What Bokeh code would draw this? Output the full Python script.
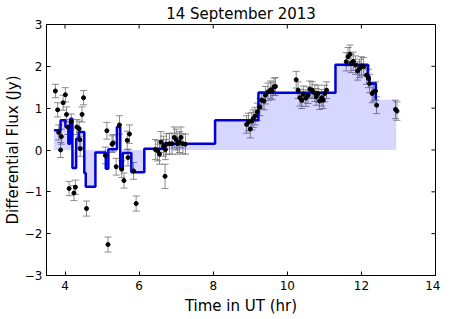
from bokeh.plotting import figure
from bokeh.models import ColumnDataSource, Whisker, TeeHead, FixedTicker, Range1d
from bokeh.embed import file_html
from bokeh.resources import INLINE

# Step model (start times of each level, level values)
step_t = [3.70, 3.88, 4.01, 4.09, 4.14, 4.20, 4.30, 4.37, 4.52, 4.56, 4.82, 5.10, 5.17,
          5.40, 5.49, 5.56, 5.79, 6.14, 6.66, 8.05, 9.22, 11.30, 12.18, 12.22, 12.39]
step_v = [0.47, 0.71, 0.55, 0.15, 0.75, -0.43, 0.27, 0.43, -0.55, -0.88, -0.06, -0.45, 0.02,
          0.55, -0.45, -0.07, -0.53, 0.03, 0.15, 0.71, 1.37, 2.04, 1.76, 1.59, 1.20]
step_end = 12.94

# Measured data points
obs_t = [3.74, 3.80, 3.83, 3.90, 3.88, 3.95, 4.01, 4.04, 4.08, 4.17, 4.32, 4.38, 4.40, 4.41,
         4.46, 4.50, 4.11, 4.28, 4.24, 4.58,
         5.09, 5.13, 5.16, 5.27, 5.30, 5.38, 5.47, 5.53, 5.59, 5.68, 5.70, 5.74, 5.85, 5.92,
         6.44, 6.50, 6.55, 6.59, 6.66, 6.70, 6.71, 6.74, 6.82, 6.89, 6.95, 7.00, 7.04, 7.09,
         7.13, 7.18, 7.25,
         8.90, 8.95, 9.00, 9.04, 9.08, 9.13, 9.19, 9.26, 9.31, 9.37, 9.41, 9.48, 9.55, 9.59,
         9.64, 9.68,
         10.24, 10.29, 10.34, 10.39, 10.43, 10.50, 10.56, 10.61, 10.67, 10.74, 10.78, 10.83,
         10.87, 10.93, 10.97, 11.01, 11.06,
         11.59, 11.64, 11.69, 11.72, 11.78, 11.84, 11.90, 11.95, 12.00, 12.06, 12.14, 12.19,
         12.22, 12.29, 12.33, 12.38, 12.41, 12.92, 12.96]
obs_v = [1.41, 0.96, 0.42, 0.32, 0.00, 1.13, 1.32, 0.85, 0.55, 0.68, 0.55, 0.51, 0.25, 0.03,
         0.85, 1.25, -0.92, -0.89, -1.03, -1.40,
         -0.13, 0.46, -2.26, 0.14, 0.17, -0.40, 0.60, -0.46, -0.73, 0.23, -0.18, 0.38, -0.50, -1.28,
         0.01, -0.02, -0.10, 0.19, 0.09, -0.63, 0.01, 0.14, 0.15, 0.15, 0.30, 0.25, 0.15, 0.19,
         0.30, 0.15, 0.14,
         0.61, 0.67, 0.50, 0.69, 0.75, 0.81, 0.91, 1.03, 1.19, 1.17, 1.31, 1.39, 1.44, 1.41,
         1.51, 1.52,
         1.68, 1.43, 1.25, 1.19, 1.33, 1.24, 1.31, 1.45, 1.43, 1.36, 1.27, 1.35,
         1.17, 1.25, 1.19, 1.35, 1.43,
         2.11, 2.23, 2.29, 2.07, 2.12, 2.03, 1.89, 1.95, 2.01, 1.99, 1.79, 1.71,
         1.59, 1.35, 1.39, 1.41, 1.07, 0.97, 0.93]
obs_err = [0.16, 0.17, 0.18, 0.18, 0.18, 0.18, 0.17, 0.18, 0.18, 0.18, 0.18, 0.18, 0.18, 0.18,
           0.18, 0.17, 0.17, 0.17, 0.18, 0.18,
           0.20, 0.20, 0.18, 0.20, 0.20, 0.20, 0.22, 0.20, 0.18, 0.22, 0.20, 0.22, 0.20, 0.18,
           0.24, 0.24, 0.24, 0.25, 0.24, 0.29, 0.24, 0.25, 0.25, 0.25, 0.25, 0.25, 0.25, 0.25,
           0.25, 0.24, 0.24,
           0.21, 0.21, 0.21, 0.21, 0.21, 0.21, 0.21, 0.21, 0.21, 0.21, 0.21, 0.21, 0.21, 0.21,
           0.21, 0.21,
           0.20, 0.20, 0.20, 0.20, 0.20, 0.20, 0.20, 0.20, 0.20, 0.20, 0.20, 0.20,
           0.20, 0.20, 0.20, 0.20, 0.20,
           0.22, 0.22, 0.22, 0.22, 0.22, 0.22, 0.22, 0.22, 0.22, 0.22, 0.22, 0.22,
           0.22, 0.22, 0.22, 0.22, 0.20, 0.22, 0.22]

x_min, x_max = 3.5, 14
y_min, y_max = -3, 3
x_ticks = [4, 6, 8, 10, 12, 14]
y_ticks = [-3, -2, -1, 0, 1, 2, 3]
y_tick_labels = {-3: "\u22123", -2: "\u22122", -1: "\u22121", 0: "0", 1: "1", 2: "2", 3: "3"}
title_text = "14 September 2013"

FONT = "DejaVu Sans"

p = figure(frame_width=389, frame_height=251, output_backend="svg", toolbar_location=None,
           title=title_text,
           x_range=Range1d(x_min, x_max), y_range=Range1d(y_min, y_max),
           min_border_left=40, min_border_right=5, min_border_top=0, min_border_bottom=0)
p.title.align = "center"
p.title.text_font = FONT
p.title.text_font_size = "15px"
p.title.text_font_style = "normal"
p.title.text_color = "black"
p.title.standoff = 4
p.title.offset = 0

p.grid.visible = False
p.outline_line_color = "black"
p.outline_line_width = 1
p.outline_line_alpha = 1

# fill under step model
fill_x = step_t + [step_end]
fill_y = step_v + [step_v[-1]]
p.varea_step(x=fill_x, y1=[0] * len(fill_x), y2=fill_y, step_mode="after",
             fill_color="#0000ff", fill_alpha=0.16)

# step line
p.step(x=step_t, y=step_v, mode="after", line_color="#0000d8", line_width=2.5)

# error bars
src = ColumnDataSource(dict(t=obs_t, v=obs_v,
                            lo=[v - e for v, e in zip(obs_v, obs_err)],
                            hi=[v + e for v, e in zip(obs_v, obs_err)]))
EB = "#707070"
wh = Whisker(source=src, base="t", upper="hi", lower="lo", line_color=EB,
             line_width=1, line_alpha=0.8,
             upper_head=TeeHead(size=7, line_color=EB, line_width=1, line_alpha=0.8),
             lower_head=TeeHead(size=7, line_color=EB, line_width=1, line_alpha=0.8))
p.add_layout(wh)
p.scatter(x="t", y="v", source=src, size=4, color="black")

# inward ticks on the top and right frame edges (half of each dash is clipped by the frame)
p.scatter(x=x_ticks, y=[y_max] * len(x_ticks), marker="dash", size=8, angle=1.5708,
          line_color="black", line_width=1)
p.scatter(x=[x_max] * len(y_ticks), y=y_ticks, marker="dash", size=8,
          line_color="black", line_width=1)

for ax in (p.xaxis[0], p.yaxis[0]):
    ax.major_tick_in = 4
    ax.major_tick_out = 0
    ax.minor_tick_in = 0
    ax.minor_tick_out = 0
    ax.axis_line_color = "black"
    ax.major_tick_line_color = "black"
    ax.major_label_text_font = FONT
    ax.major_label_text_font_size = "12px"
    ax.major_label_text_color = "black"
    ax.axis_label_text_font = FONT
    ax.axis_label_text_font_size = "15px"
    ax.axis_label_text_font_style = "normal"
    ax.axis_label_text_color = "black"

p.xaxis.ticker = FixedTicker(ticks=x_ticks)
p.yaxis.ticker = FixedTicker(ticks=y_ticks)
p.yaxis.major_label_overrides = y_tick_labels
p.xaxis.axis_label = "Time in UT (hr)"
p.yaxis.axis_label = "Differential Flux (Jy)"
p.xaxis.major_label_standoff = 5
p.yaxis.major_label_standoff = 4
p.xaxis.axis_label_standoff = 4
p.yaxis.axis_label_standoff = 0

open("out.html", "w").write(file_html(p, INLINE))
